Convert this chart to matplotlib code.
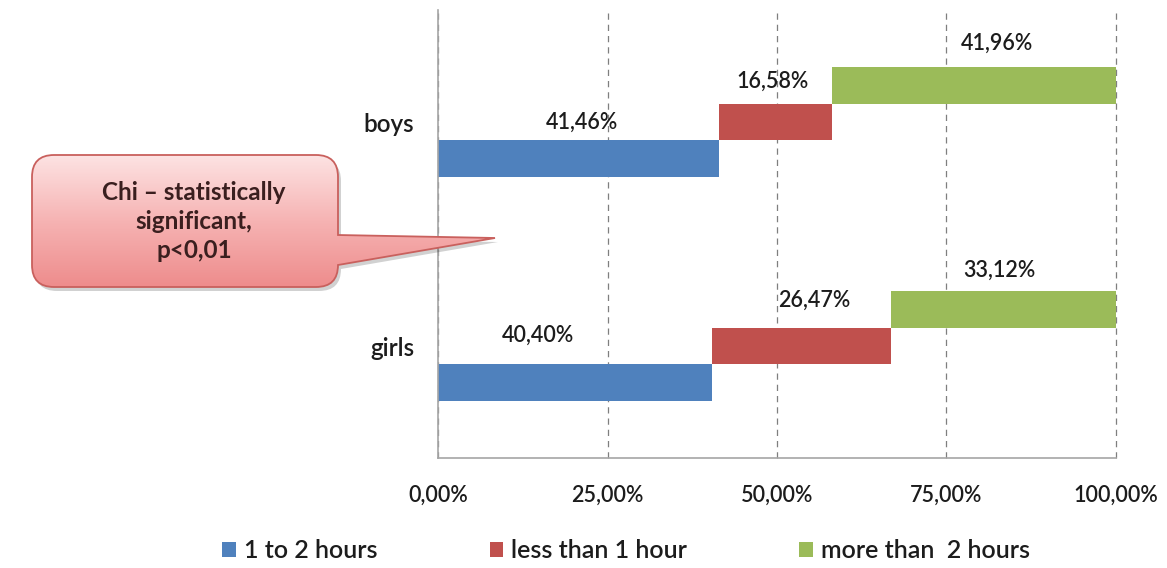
import numpy as np
import matplotlib
matplotlib.use("Agg")
import matplotlib.pyplot as plt
from matplotlib.path import Path
from matplotlib.patches import PathPatch
from matplotlib.colors import LinearSegmentedColormap
from matplotlib.ticker import FuncFormatter

# data
groups = ["boys", "girls"]
series = ["1 to 2 hours", "less than 1 hour", "more than  2 hours"]
boys_vals = [41.46, 16.58, 41.96]
girls_vals = [40.40, 26.47, 33.12]
xticks = [0, 25, 50, 75, 100]
note_lines = ["Chi \u2013 statistically", "significant,", "p<0,01"]

colors = ["#4f81bd", "#c0504d", "#9bbb59"]
txt = "#1c1c1c"
fs = 17.5      # words
fs_num = 15.5  # numbers (Lato digits run wide)
# label nudges in pixels (dx from bar centre, dy above bar top), per group
label_dx = [[3, -3, 23], [-37, 13, -4]]
label_dy = [[18, 22, 23], [29, 27, 20]]

plt.rcParams["font.family"] = ["Lato", "DejaVu Sans"]
plt.rcParams["font.weight"] = "semibold"

W, H = 1167, 568
fig = plt.figure(figsize=(W / 100, H / 100), dpi=100)
ax = fig.add_axes([438 / W, 1 - 458 / H, (1116 - 438) / W, (458 - 10) / H])

bar_h = 0.165
handles = []
for gi, vals in enumerate([boys_vals, girls_vals]):
    left = 0
    for si, v in enumerate(vals):
        y = gi + (1 - si) * bar_h
        b = ax.barh(y, v, left=left, height=bar_h, color=colors[si], zorder=3)
        if gi == 0:
            handles.append(b)
        s = f"{v:.2f}".replace(".", ",") + "%"
        ax.annotate(s, (left + v / 2, y - bar_h / 2),
                    xytext=(label_dx[gi][si], label_dy[gi][si]),
                    textcoords="offset pixels", ha="center", va="center",
                    fontsize=fs_num, color=txt, zorder=5)
        left += v

ax.set_xlim(0, 100)
ax.set_ylim(1.5, -0.5)
ax.set_xticks(xticks)
ax.xaxis.set_major_formatter(FuncFormatter(lambda x, p: f"{x:.2f}".replace(".", ",") + "%"))
ax.set_yticks(range(len(groups)))
ax.set_yticklabels(groups)
ax.tick_params(axis="x", length=0, pad=19, labelsize=fs_num, labelcolor=txt)
ax.tick_params(axis="y", length=0, pad=17, labelsize=fs, labelcolor=txt)
ax.set_axisbelow(True)
ax.grid(axis="x", color="#7f7f7f", linestyle=(0, (5, 4)), linewidth=0.9)
ax.grid(axis="y", visible=False)
for gl in ax.get_xgridlines():
    gl.set_clip_on(False)
for sp in ["top", "right"]:
    ax.spines[sp].set_visible(False)
for sp in ["left", "bottom"]:
    ax.spines[sp].set_color("#a6a6a6")
    ax.spines[sp].set_linewidth(1.2)
ax.spines["left"].set_zorder(4)

# callout in figure pixel coordinates
ov = fig.add_axes([0, 0, 1, 1], zorder=10)
ov.axis("off")
ov.patch.set_alpha(0)

x0, x1, y0, y1, r = 32, 338, 155, 287, 22
tip = (495, 238)
verts = [(x0 + r, y0), (x1 - r, y0), (x1, y0), (x1, y0 + r),
         (x1, 235), tip, (x1, 265),
         (x1, y1 - r), (x1, y1), (x1 - r, y1),
         (x0 + r, y1), (x0, y1), (x0, y1 - r),
         (x0, y0 + r), (x0, y0), (x0 + r, y0), (x0 + r, y0)]
codes = [Path.MOVETO, Path.LINETO, Path.CURVE3, Path.CURVE3,
         Path.LINETO, Path.LINETO, Path.LINETO,
         Path.LINETO, Path.CURVE3, Path.CURVE3,
         Path.LINETO, Path.CURVE3, Path.CURVE3,
         Path.LINETO, Path.CURVE3, Path.CURVE3, Path.CLOSEPOLY]
shape = Path(verts, codes)
shadow = Path([(vx + 3, vy + 4) for vx, vy in verts], codes)
ov.add_patch(PathPatch(shadow, facecolor="#000000", alpha=0.18, edgecolor="none"))

cmap = LinearSegmentedColormap.from_list("pink", ["#fde3e3", "#f6b3b3", "#ee8c8c"])
grad = np.linspace(0, 1, 256).reshape(-1, 1)
img = ov.imshow(grad, cmap=cmap, extent=(x0, tip[0] + 2, y1, y0), origin="upper",
                aspect="auto", zorder=11)
patch = PathPatch(shape, facecolor="none", edgecolor="#c9605d", linewidth=1.3, zorder=12)
ov.add_patch(patch)
img.set_clip_path(patch)
ov.set_xlim(0, W)
ov.set_ylim(H, 0)

for i, line in enumerate(note_lines):
    ov.text(194, 192 + i * 29.5, line, ha="center", va="center",
            fontsize=17.5, fontweight="bold", color="#3a1f1f", zorder=13)

fig.legend(handles=handles, labels=series, loc="center",
           bbox_to_anchor=(626 / W, 1 - 551 / H), ncol=3, frameon=False,
           handlelength=0.55, handleheight=0.55, handletextpad=0.3,
           columnspacing=4.5, fontsize=18, labelcolor=txt)

fig.savefig("out.png", dpi=100)
